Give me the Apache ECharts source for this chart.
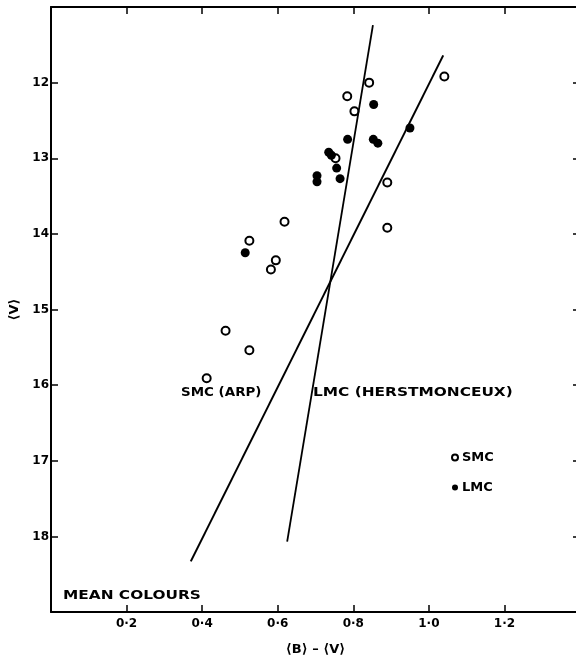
<!DOCTYPE html>
<html>
<head>
<meta charset="utf-8">
<script src="https://cdn.jsdelivr.net/npm/echarts@6/dist/echarts.min.js"></script>
<style>
  html, body {margin: 0; padding: 0; background: #fff;}
  #chart {width: 576px; height: 657px;}
</style>
</head>
<body>
<div id="chart"></div>
<script>
// mean colours: open circles SMC, filled LMC  [<B>-<V>, <V>]
let smcPoints = [
  [0.842, 12.00], [1.041, 11.92], [0.784, 12.18], [0.803, 12.38],
  [0.753, 13.00], [0.890, 13.32], [0.890, 13.92], [0.618, 13.84],
  [0.525, 14.09], [0.595, 14.35], [0.582, 14.47], [0.462, 15.28],
  [0.525, 15.54], [0.412, 15.91]
];
let lmcPoints = [
  [0.854, 12.29], [0.950, 12.60], [0.785, 12.75], [0.853, 12.75],
  [0.865, 12.80], [0.735, 12.92], [0.742, 12.96], [0.756, 13.13],
  [0.765, 13.27], [0.704, 13.23], [0.704, 13.31], [0.514, 14.25]
];
// fitted lines
let smcArpLine = [[0.370, 18.33], [1.038, 11.64]];
let lmcHerstLine = [[0.625, 18.07], [0.852, 11.24]];

let xTicks = [0.2, 0.4, 0.6, 0.8, 1.0, 1.2];
let yTicks = [12, 13, 14, 15, 16, 17, 18];

let font = 'DejaVu Sans';
let ink = '#000';

let chart = echarts.init(document.getElementById('chart'));

function xLabel(v) {
  let t = Math.round(v * 10) / 10;
  return xTicks.indexOf(t) >= 0 ? t.toFixed(1).replace('.', '·') : '';
}
function yLabel(v) {
  return yTicks.indexOf(v) >= 0 ? String(v) : '';
}

// wide hand lettering: stretch the text horizontally
function wideText(str, x, y, sx) {
  return {
    type: 'text', x: x, y: y, scaleX: sx, scaleY: 1,
    style: {text: str, font: 'bold 12px "DejaVu Sans"', fill: ink, verticalAlign: 'middle'}
  };
}

let axisBase = {
  type: 'value',
  axisLine: {show: true, onZero: false, lineStyle: {color: ink, width: 2}},
  axisTick: {show: true, inside: true, length: 7, lineStyle: {color: ink, width: 1.5}},
  splitLine: {show: false}
};

let option = {
  animation: false,
  backgroundColor: '#fff',
  textStyle: {fontFamily: font},
  grid: {left: 51, top: 7, width: 529, bottom: 45, containLabel: false, outerBoundsMode: 'none'},
  xAxis: [
    Object.assign({}, axisBase, {
      position: 'bottom', min: 0, max: 1.4, interval: 0.2,
      name: '⟨B⟩ – ⟨V⟩', nameLocation: 'middle', nameGap: 31,
      nameTextStyle: {fontFamily: font, fontWeight: 'bold', fontSize: 13, color: ink},
      axisLabel: {formatter: xLabel, margin: 6, fontFamily: font, fontWeight: 'bold', fontSize: 12, color: ink}
    }),
    Object.assign({}, axisBase, {
      position: 'top', min: 0, max: 1.4, interval: 0.2,
      axisLabel: {show: false}
    })
  ],
  yAxis: [
    Object.assign({}, axisBase, {
      position: 'left', min: 11, max: 19, interval: 1, inverse: true,
      name: '⟨V⟩', nameLocation: 'middle', nameGap: 27, nameRotate: 90,
      nameTextStyle: {fontFamily: font, fontWeight: 'bold', fontSize: 13, color: ink},
      axisLabel: {formatter: yLabel, margin: 2, fontFamily: font, fontWeight: 'bold', fontSize: 12, color: ink}
    }),
    Object.assign({}, axisBase, {
      position: 'right', min: 11, max: 19, interval: 1, inverse: true,
      axisLabel: {show: false}
    })
  ],
  legend: {
    data: ['SMC', 'LMC'],
    orient: 'vertical',
    left: 446, top: 446,
    itemWidth: 6, itemHeight: 6, itemGap: 17,
    icon: 'circle',
    textStyle: {fontFamily: font, fontWeight: 'bold', fontSize: 13, color: ink, padding: [0, 0, 0, -1]}
  },
  graphic: [
    wideText('SMC (ARP)', 181, 393, 1.12),
    wideText('LMC (HERSTMONCEUX)', 313, 393, 1.28),
    wideText('MEAN COLOURS', 63, 596, 1.28)
  ],
  series: [
    {
      name: 'SMC (ARP) fit', type: 'line', data: smcArpLine, symbol: 'none', silent: true,
      lineStyle: {color: ink, width: 2}
    },
    {
      name: 'LMC (Herstmonceux) fit', type: 'line', data: lmcHerstLine, symbol: 'none', silent: true,
      lineStyle: {color: ink, width: 1.8}
    },
    {
      name: 'SMC', type: 'scatter', data: smcPoints, symbol: 'circle', symbolSize: 8,
      itemStyle: {color: '#fff', borderColor: ink, borderWidth: 2, opacity: 1}
    },
    {
      name: 'LMC', type: 'scatter', data: lmcPoints, symbol: 'circle', symbolSize: 9,
      itemStyle: {color: ink, borderWidth: 0, opacity: 1}
    }
  ]
};

chart.setOption(option);
</script>
</body>
</html>
